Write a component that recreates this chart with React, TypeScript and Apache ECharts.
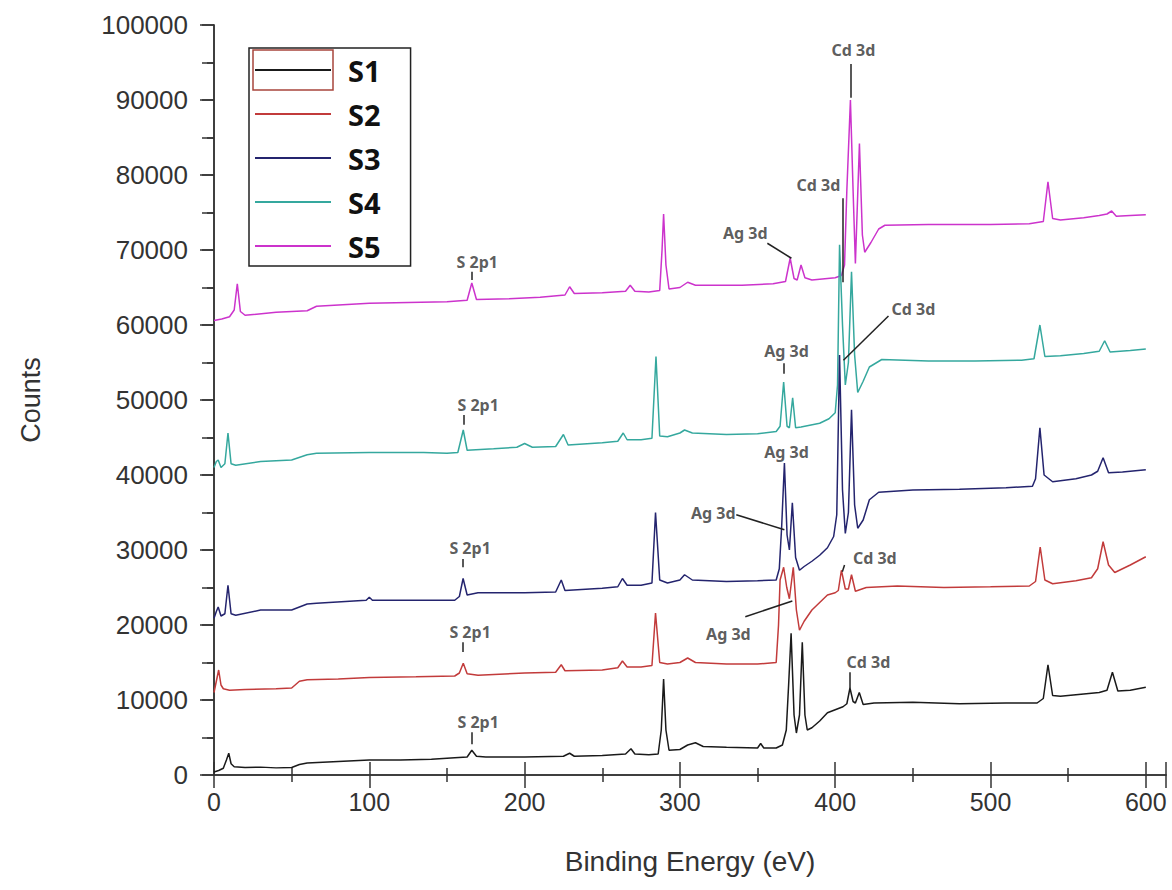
import React, { useEffect, useRef } from "react";
import * as echarts from "echarts";

// Binding energy (eV) / counts pairs
const s1Points: number[][] = [
  [0, 400], [3, 600], [6, 900], [8, 2000], [9.5, 2900], [11, 1500], [13, 1100], [20, 1000], [30, 1050], [40, 950],
  [50, 1000], [55, 1400], [60, 1600], [80, 1800], [100, 2000], [120, 2000], [140, 2100], [155, 2300], [163, 2400],
  [166, 3300], [169, 2500], [175, 2400], [200, 2400], [225, 2500], [229, 2900], [232, 2500], [250, 2600], [265, 2800],
  [268.5, 3500], [271, 2800], [280, 2700], [286, 2800], [288, 6000], [289.5, 12800], [291, 6000], [293, 3300],
  [300, 3400], [305, 4000], [310, 4300], [315, 3800], [330, 3700], [350, 3600], [352, 4200], [354, 3600], [362, 3600],
  [366, 4000], [368.5, 6000], [370, 12000], [371.6, 18900], [373.5, 8000], [375, 5600], [377, 8000], [378.8, 17700],
  [380.5, 8000], [382, 6000], [385, 6300], [390, 7200], [395, 8300], [400, 8700], [405, 9100], [407.5, 9500],
  [409.5, 11600], [411.5, 9800], [413, 9600], [415.5, 11000], [418, 9400], [425, 9600], [450, 9700], [480, 9500],
  [510, 9600], [530, 9600], [534, 10200], [537, 14700], [540, 10600], [545, 10500], [560, 10800], [570, 11000],
  [575, 11300], [578.5, 13700], [582, 11200], [590, 11300], [600, 11700],
];
const s2Points: number[][] = [
  [0, 11000], [1.5, 12500], [3, 14000], [4.5, 12000], [6, 11500], [10, 11300], [20, 11400], [40, 11500], [50, 11600],
  [55, 12500], [60, 12700], [80, 12800], [100, 13000], [130, 13100], [155, 13200], [158, 13600], [160.5, 14900],
  [163, 13500], [170, 13300], [200, 13600], [220, 13700], [223.6, 14700], [226, 13900], [250, 14000], [260, 14300],
  [263, 15200], [266, 14400], [275, 14400], [282, 14600], [284.3, 21600], [287, 15000], [292, 14800], [300, 15000],
  [305, 15600], [310, 15000], [330, 14800], [350, 14800], [362, 15000], [363.5, 20000], [364.5, 26000],
  [366.8, 27700], [368.8, 25000], [370.5, 23500], [373, 27700], [375, 22000], [377, 19300], [380, 20500],
  [385, 22000], [390, 23000], [395, 24000], [400, 24300], [402, 24600], [404, 27300], [406.5, 24800], [408.5, 24800],
  [410.5, 26700], [413, 24500], [420, 25000], [440, 25200], [470, 25000], [500, 25100], [525, 25200], [529, 25800],
  [532, 30400], [535, 26000], [540, 25500], [555, 25900], [565, 26300], [569, 27500], [572.5, 31100], [576, 28000],
  [580, 27000], [590, 28000], [600, 29100],
];
const s3Points: number[][] = [
  [0, 20900], [1.5, 21800], [2.7, 22400], [4.5, 21200], [7, 21500], [9, 25300], [11, 21500], [14, 21300], [30, 22000],
  [50, 22000], [60, 22800], [66, 22900], [90, 23200], [98, 23300], [100, 23700], [102, 23300], [130, 23300],
  [155, 23300], [158, 23800], [160.4, 26200], [163, 24000], [170, 24300], [200, 24300], [220, 24400], [223.6, 26000],
  [226, 24600], [250, 24900], [260, 25100], [263, 26200], [266, 25300], [275, 25300], [282, 25600], [284.3, 35000],
  [287, 26000], [292, 25600], [300, 26000], [303, 26700], [308, 26000], [330, 25800], [350, 25900], [362, 26000],
  [364, 27500], [365.5, 33000], [367.3, 41600], [369, 32000], [370.5, 30000], [372.4, 36300], [374.5, 29000],
  [377, 27300], [380, 27800], [385, 28500], [390, 29300], [395, 30300], [399, 31800], [401, 34700], [402.8, 56000],
  [404.7, 38000], [406.5, 32200], [408.5, 35000], [410.5, 48700], [412.5, 36000], [414.5, 32900], [418, 34000],
  [422, 36700], [428, 37700], [450, 38000], [480, 38100], [510, 38300], [527, 38500], [529, 39500], [531.8, 46300],
  [534.5, 40000], [540, 39100], [555, 39500], [565, 40000], [569, 40500], [572.5, 42300], [576, 40300], [585, 40400],
  [600, 40700],
];
const s4Points: number[][] = [
  [0, 41000], [1.5, 41800], [2.7, 42000], [4.5, 41000], [7, 41500], [9, 45600], [11, 41500], [14, 41300], [30, 41800],
  [50, 42000], [60, 42700], [66, 42900], [100, 43000], [135, 43000], [150, 42900], [157, 43000], [160.5, 46000],
  [163, 43300], [180, 43500], [195, 43700], [200, 44200], [205, 43700], [220, 43800], [225, 45400], [228, 44000],
  [250, 44300], [260, 44500], [263.5, 45600], [266, 44700], [275, 44700], [282, 44900], [284.6, 55800], [287, 45200],
  [292, 45100], [300, 45600], [303, 46000], [308, 45600], [330, 45400], [350, 45500], [362, 45800], [364.5, 46500],
  [366.8, 52400], [369, 46500], [370.5, 46300], [372.6, 50300], [374.5, 46300], [378, 46400], [390, 46900],
  [396, 47500], [400, 48300], [401.5, 52000], [402.8, 70700], [404.7, 60000], [406.5, 52000], [408.5, 55000],
  [410.5, 67100], [412.5, 56000], [414.5, 51000], [418, 52500], [422, 54400], [430, 55400], [460, 55200],
  [490, 55200], [520, 55300], [528, 55500], [531.8, 60000], [535, 55800], [545, 55900], [560, 56200], [570, 56500],
  [573.5, 57900], [577, 56400], [590, 56600], [600, 56800],
];
const s5Points: number[][] = [
  [0, 60600], [5, 60800], [10, 61100], [13, 62000], [15, 65500], [17, 61800], [20, 61300], [40, 61700], [60, 61900],
  [66, 62500], [100, 62900], [150, 63100], [163, 63300], [166, 65600], [169, 63400], [190, 63500], [210, 63700],
  [226, 64000], [229, 65100], [232, 64200], [250, 64300], [265, 64500], [268, 65300], [271, 64500], [280, 64400],
  [287, 64600], [288.5, 70000], [289.5, 74800], [291, 68000], [293, 64800], [300, 65000], [305, 65700], [310, 65300],
  [340, 65300], [360, 65500], [368, 65800], [371, 68900], [373.5, 66200], [375.5, 66000], [378, 68000],
  [380.5, 66300], [385, 66000], [400, 66300], [404, 66600], [406, 68000], [407.5, 78000], [409.8, 90000],
  [411.5, 78000], [413, 68200], [415.6, 84200], [417.5, 72000], [419, 69700], [423, 71000], [428, 72800],
  [432, 73300], [460, 73400], [500, 73400], [525, 73500], [534, 73800], [537, 79100], [540, 74200], [545, 74000],
  [560, 74300], [570, 74600], [575, 74800], [578, 75200], [581, 74500], [590, 74600], [600, 74700],
];

const seriesNames = ["S1", "S2", "S3", "S4", "S5"];
const seriesColors = ["#1a1a1a", "#c23b3b", "#24246e", "#35a89e", "#cc33cc"];

// Peak annotations: [eV, counts, text]
const annLabels: [number, number, string][] = [
  [411.7, 96700, "Cd 3d"],
  [389.2, 78700, "Cd 3d"],
  [342.1, 72300, "Ag 3d"],
  [169.5, 68400, "S 2p1"],
  [450.4, 62100, "Cd 3d"],
  [368.6, 56500, "Ag 3d"],
  [170.1, 49300, "S 2p1"],
  [368.6, 43100, "Ag 3d"],
  [321.5, 34900, "Ag 3d"],
  [164.9, 30300, "S 2p1"],
  [425.5, 28900, "Cd 3d"],
  [164.9, 19100, "S 2p1"],
  [331.2, 18800, "Ag 3d"],
  [421.4, 15100, "Cd 3d"],
  [170.1, 7100, "S 2p1"],
];
// Leader lines: [eV1, counts1, eV2, counts2]
const annLeaders: number[][] = [
  [409.8, 94800, 409.8, 90300],
  [404.6, 76900, 404.6, 65700],
  [356.3, 70900, 371.8, 68900],
  [166.2, 67100, 166.2, 66000],
  [434.3, 61200, 405.3, 55300],
  [366.6, 54900, 366.6, 53500],
  [161.1, 48000, 161.1, 46700],
  [336.3, 34700, 367.3, 32700],
  [160.4, 28800, 160.4, 27700],
  [406.0, 28000, 404.6, 27100],
  [160.4, 17700, 160.4, 16400],
  [342.1, 21100, 372.4, 23200],
  [409.1, 13700, 409.1, 11600],
  [166.2, 5700, 166.2, 4100],
];

const xMin = 0;
const xMax = 613;
const yMin = 0;
const yMax = 100000;

export default function App() {
  const ref = useRef<HTMLDivElement>(null);
  useEffect(() => {
    if (!ref.current) return;
    const chart = echarts.init(ref.current, undefined, { renderer: "svg" });
    const pts = [s1Points, s2Points, s3Points, s4Points, s5Points];
    const lineSeries = [4, 3, 2, 1, 0].map((i) => ({
      name: seriesNames[i],
      type: "line",
      symbol: "none",
      data: pts[i],
      lineStyle: { color: seriesColors[i], width: 1.5 },
      itemStyle: { color: seriesColors[i] },
      z: 2 + (4 - i) * 0.1,
    }));
    const axisColor = "#333";
    chart.setOption({
      animation: false,
      backgroundColor: "#fff",
      grid: { left: 214, top: 25, width: 952, height: 750 },
      legend: {
        data: seriesNames,
        orient: "vertical",
        left: 249,
        top: 48,
        padding: [7, 30, 5, 6],
        icon: "rect",
        itemWidth: 76,
        itemHeight: 2,
        itemGap: 14,
        selectedMode: false,
        borderColor: "#222",
        borderWidth: 1.5,
        backgroundColor: "#fff",
        textStyle: {
          fontSize: 29,
          fontWeight: "bold",
          fontFamily: "'Noto Sans', sans-serif",
          color: "#111",
          lineHeight: 30,
          padding: [0, 0, 0, 12],
        },
        z: 10,
      },
      xAxis: [
        {
          type: "value",
          min: xMin,
          max: xMax,
          interval: 100,
          position: "bottom",
          name: "Binding Energy (eV)",
          nameLocation: "middle",
          nameGap: 72,
          nameTextStyle: { fontSize: 28, color: "#333", fontFamily: "'Liberation Sans', Arial, sans-serif" },
          axisLine: { lineStyle: { color: axisColor, width: 1.5 } },
          axisTick: { inside: false, length: 13, lineStyle: { color: axisColor, width: 1.5 } },
          minorTick: { show: true, splitNumber: 2, length: 7, lineStyle: { color: axisColor, width: 1.5 } },
          splitLine: { show: false },
          axisLabel: {
            fontSize: 25,
            margin: 14,
            color: "#333",
            fontFamily: "'Liberation Sans Narrow', 'Liberation Sans', Arial, sans-serif",
            showMaxLabel: false,
          },
        },
        {
          type: "value",
          min: xMin,
          max: xMax,
          interval: 100,
          position: "top",
          axisLine: { lineStyle: { color: axisColor, width: 1.5 } },
          axisTick: { inside: false, length: 13, lineStyle: { color: axisColor, width: 1.5 } },
          minorTick: { show: true, splitNumber: 2, length: 7, lineStyle: { color: axisColor, width: 1.5 } },
          splitLine: { show: false },
          axisLabel: { show: false },
        },
      ],
      yAxis: [
        {
          type: "value",
          min: yMin,
          max: yMax,
          interval: 10000,
          position: "left",
          name: "Counts",
          nameLocation: "middle",
          nameGap: 170,
          nameTextStyle: { fontSize: 27, color: "#333", fontFamily: "'Liberation Sans', Arial, sans-serif" },
          axisLine: { show: true, lineStyle: { color: axisColor, width: 1.5 } },
          axisTick: { show: true, inside: false, length: 14, lineStyle: { color: axisColor, width: 1.5 } },
          minorTick: { show: true, splitNumber: 2, length: 7, lineStyle: { color: axisColor, width: 1.5 } },
          splitLine: { show: false },
          axisLabel: {
            fontSize: 26,
            margin: 26,
            color: "#333",
            fontFamily: "'Liberation Sans', Arial, sans-serif",
            formatter: (v: number) => String(v),
          },
        },
        {
          type: "value",
          min: yMin,
          max: yMax,
          interval: 5000,
          position: "right",
          axisLine: { show: true, lineStyle: { color: axisColor, width: 1.5 } },
          axisTick: { show: true, inside: true, length: 12, lineStyle: { color: axisColor, width: 1.5 } },
          splitLine: { show: false },
          axisLabel: { show: false },
        },
      ],
      graphic: [
        {
          type: "rect",
          shape: { x: 253, y: 50, width: 80, height: 40 },
          style: { fill: "none", stroke: "#a8463c", lineWidth: 1.5 },
          z: 100,
        },
      ],
      series: [
        ...lineSeries,
        {
          name: "leaders",
          type: "lines",
          coordinateSystem: "cartesian2d",
          xAxisIndex: 0,
          yAxisIndex: 0,
          data: annLeaders.map((l) => ({ coords: [[l[0], l[1]], [l[2], l[3]]] })),
          lineStyle: { color: "#222", width: 1.5, opacity: 1, curveness: 0 },
          z: 5,
          silent: true,
        },
        {
          name: "labels",
          type: "scatter",
          xAxisIndex: 0,
          yAxisIndex: 0,
          symbolSize: 1,
          data: annLabels.map((a) => [a[0], a[1], a[2]]),
          itemStyle: { color: "transparent" },
          label: {
            show: true,
            position: "inside",
            formatter: (p: any) => p.value[2],
            fontSize: 16,
            fontWeight: "bold",
            fontFamily: "'Noto Sans', sans-serif",
            color: "#333",
          },
          z: 6,
          silent: true,
        },
      ],
    });
    return () => chart.dispose();
  }, []);
  return (
    <div
      ref={ref}
      style={{ position: "absolute", left: 0, top: 0, width: 1172, height: 890, background: "#fff" }}
    />
  );
}
